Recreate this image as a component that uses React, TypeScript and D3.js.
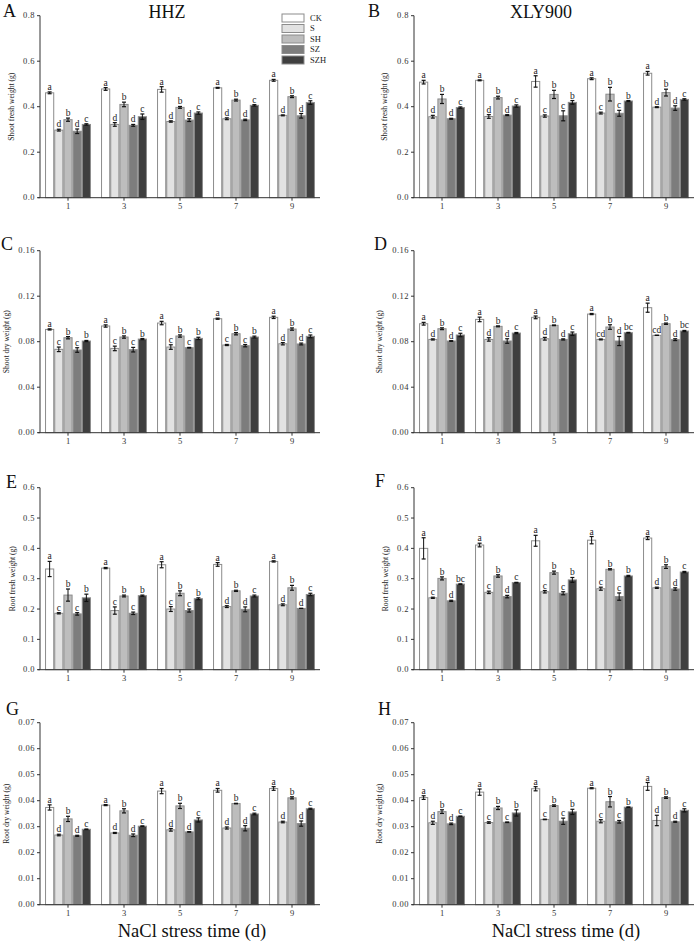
import React from 'react';
import * as d3 from 'd3';

const days = ['1', '3', '5', '7', '9'];
const treatments = ['CK', 'S', 'SH', 'SZ', 'SZH'];
const fills = ['#ffffff', '#e2e2e2', '#bdbdbd', '#7d7d7d', '#3f3f3f'];

// rows = days, columns = treatments
const aMean = [
  [0.461, 0.297, 0.343, 0.292, 0.322],
  [0.478, 0.322, 0.41, 0.318, 0.356],
  [0.476, 0.335, 0.397, 0.341, 0.372],
  [0.483, 0.347, 0.429, 0.342, 0.406],
  [0.516, 0.362, 0.444, 0.36, 0.418],
];
const aErr = [
  [0.004, 0.004, 0.007, 0.01, 0.003],
  [0.006, 0.008, 0.01, 0.004, 0.012],
  [0.012, 0.003, 0.004, 0.006, 0.005],
  [0.002, 0.004, 0.004, 0.003, 0.003],
  [0.004, 0.002, 0.004, 0.01, 0.008],
];
const aLetters = [
  ['a', 'd', 'b', 'd', 'c'],
  ['a', 'd', 'b', 'd', 'c'],
  ['a', 'd', 'b', 'd', 'c'],
  ['a', 'd', 'b', 'd', 'c'],
  ['a', 'd', 'b', 'd', 'c'],
];

const bMean = [
  [0.508, 0.356, 0.434, 0.347, 0.396],
  [0.516, 0.357, 0.44, 0.363, 0.403],
  [0.511, 0.359, 0.454, 0.36, 0.419],
  [0.523, 0.372, 0.455, 0.371, 0.425],
  [0.547, 0.398, 0.462, 0.394, 0.432],
];
const bErr = [
  [0.008, 0.006, 0.02, 0.002, 0.003],
  [0.002, 0.008, 0.006, 0.002, 0.005],
  [0.025, 0.005, 0.018, 0.022, 0.008],
  [0.004, 0.004, 0.03, 0.013, 0.002],
  [0.008, 0.002, 0.015, 0.01, 0.003],
];
const bLetters = [
  ['a', 'd', 'b', 'd', 'c'],
  ['a', 'd', 'b', 'd', 'c'],
  ['a', 'c', 'b', 'c', 'b'],
  ['a', 'c', 'b', 'c', 'b'],
  ['a', 'd', 'b', 'd', 'c'],
];

const cMean = [
  [0.0908, 0.0733, 0.0835, 0.0727, 0.0806],
  [0.0938, 0.0741, 0.0841, 0.073, 0.0823],
  [0.0964, 0.0753, 0.085, 0.0747, 0.0829],
  [0.1002, 0.0771, 0.087, 0.0765, 0.0841],
  [0.1014, 0.0782, 0.0911, 0.078, 0.0847],
];
const cErr = [
  [0.0005, 0.002, 0.001, 0.002, 0.0005],
  [0.001, 0.002, 0.001, 0.002, 0.0005],
  [0.0015, 0.002, 0.001, 0.0003, 0.001],
  [0.0005, 0.0005, 0.001, 0.001, 0.0008],
  [0.001, 0.001, 0.001, 0.0008, 0.0012],
];
const cLetters = [
  ['a', 'c', 'b', 'c', 'b'],
  ['a', 'c', 'b', 'c', 'b'],
  ['a', 'c', 'b', 'c', 'b'],
  ['a', 'c', 'b', 'c', 'b'],
  ['a', 'd', 'b', 'd', 'c'],
];

const dMean = [
  [0.0958, 0.082, 0.0914, 0.0806, 0.0859],
  [0.0996, 0.082, 0.0935, 0.0806, 0.0876],
  [0.1014, 0.0826, 0.0944, 0.082, 0.087],
  [0.1043, 0.082, 0.0929, 0.0806, 0.0879],
  [0.1099, 0.0856, 0.0958, 0.0818, 0.0894],
];
const dErr = [
  [0.0012, 0.0005, 0.0008, 0.0003, 0.0015],
  [0.002, 0.0015, 0.0004, 0.002, 0.0005],
  [0.0012, 0.0012, 0.0003, 0.0005, 0.0015],
  [0.0005, 0.0004, 0.002, 0.004, 0.0003],
  [0.004, 0, 0.0006, 0.0008, 0.0005],
];
const dLetters = [
  ['a', 'd', 'b', 'd', 'c'],
  ['a', 'd', 'b', 'd', 'c'],
  ['a', 'd', 'b', 'd', 'c'],
  ['a', 'cd', 'b', 'd', 'bc'],
  ['a', 'cd', 'b', 'd', 'bc'],
];

const eMean = [
  [0.332, 0.186, 0.246, 0.184, 0.237],
  [0.335, 0.195, 0.243, 0.186, 0.244],
  [0.346, 0.2, 0.252, 0.195, 0.234],
  [0.347, 0.208, 0.26, 0.199, 0.243],
  [0.357, 0.214, 0.27, 0.202, 0.248],
];
const eErr = [
  [0.025, 0.002, 0.02, 0.004, 0.012],
  [0.002, 0.012, 0.003, 0.004, 0.002],
  [0.01, 0.008, 0.008, 0.005, 0.003],
  [0.006, 0.003, 0.002, 0.008, 0.003],
  [0.002, 0.003, 0.008, 0, 0.004],
];
const eLetters = [
  ['a', 'c', 'b', 'c', 'b'],
  ['a', 'c', 'b', 'c', 'b'],
  ['a', 'c', 'b', 'c', 'b'],
  ['a', 'd', 'b', 'd', 'c'],
  ['a', 'd', 'b', 'd', 'c'],
];

const fMean = [
  [0.4, 0.237, 0.301, 0.227, 0.282],
  [0.411, 0.255, 0.309, 0.241, 0.287],
  [0.425, 0.257, 0.32, 0.252, 0.296],
  [0.427, 0.267, 0.331, 0.241, 0.309],
  [0.434, 0.27, 0.34, 0.266, 0.322],
];
const fErr = [
  [0.035, 0.002, 0.005, 0.002, 0.001],
  [0.006, 0.004, 0.004, 0.004, 0.001],
  [0.018, 0.004, 0.005, 0.005, 0.008],
  [0.012, 0.005, 0.002, 0.012, 0.002],
  [0.005, 0.002, 0.006, 0.004, 0.002],
];
const fLetters = [
  ['a', 'c', 'b', 'd', 'bc'],
  ['a', 'c', 'b', 'd', 'c'],
  ['a', 'c', 'b', 'c', 'b'],
  ['a', 'c', 'b', 'c', 'b'],
  ['a', 'd', 'b', 'd', 'c'],
];

const gMean = [
  [0.0374, 0.0268, 0.033, 0.0265, 0.029],
  [0.0383, 0.0276, 0.0361, 0.0267, 0.0302],
  [0.0437, 0.0288, 0.038, 0.028, 0.0326],
  [0.044, 0.0295, 0.0389, 0.0294, 0.0349],
  [0.0447, 0.0318, 0.0411, 0.0312, 0.0369],
];
const gErr = [
  [0.001, 0.0003, 0.001, 0.0002, 0.0001],
  [0.0002, 0.0002, 0.0008, 0.0005, 0.0001],
  [0.001, 0.0005, 0.001, 0.0001, 0.0008],
  [0.0007, 0.0004, 0.0001, 0.001, 0.0003],
  [0.0007, 0.0003, 0.0004, 0.001, 0.0002],
];
const gLetters = [
  ['a', 'd', 'b', 'd', 'c'],
  ['a', 'd', 'b', 'd', 'c'],
  ['a', 'd', 'b', 'd', 'c'],
  ['a', 'd', 'b', 'd', 'c'],
  ['a', 'd', 'b', 'd', 'c'],
];

const hMean = [
  [0.0412, 0.0315, 0.0358, 0.0311, 0.034],
  [0.0433, 0.0316, 0.0372, 0.0317, 0.0353],
  [0.0446, 0.0328, 0.0381, 0.0321, 0.0357],
  [0.0448, 0.0321, 0.0396, 0.0319, 0.0375],
  [0.0455, 0.0324, 0.0412, 0.0319, 0.0363],
];
const hErr = [
  [0.0007, 0.0006, 0.0007, 0.0003, 0.0001],
  [0.0012, 0.0003, 0.0006, 0.0001, 0.0012],
  [0.0008, 0.0001, 0.0003, 0.0012, 0.001],
  [0.0002, 0.0006, 0.002, 0.0005, 0.0001],
  [0.0015, 0.002, 0.0003, 0.0002, 0.0006],
];
const hLetters = [
  ['a', 'd', 'b', 'd', 'c'],
  ['a', 'c', 'b', 'c', 'b'],
  ['a', 'c', 'b', 'c', 'b'],
  ['a', 'c', 'b', 'c', 'b'],
  ['a', 'd', 'b', 'd', 'c'],
];

const freshTicks = [0, 0.2, 0.4, 0.6, 0.8];
const shootDryTicks = [0, 0.04, 0.08, 0.12, 0.16];
const rootFreshTicks = [0, 0.1, 0.2, 0.3, 0.4, 0.5, 0.6];
const rootDryTicks = [0, 0.01, 0.02, 0.03, 0.04, 0.05, 0.06, 0.07];

const FONT = '"Liberation Serif", "Times New Roman", serif';
const PLOT_W = 280;
const PLOT_H = 182;

type PanelDef = {
  tag: string;
  tagX: number;
  tagY: number;
  x0: number;
  top: number;
  mean: number[][];
  err: number[][];
  letters: string[][];
  ticks: number[];
  fmt: string;
  yTitle: string;
  yTitleOff: number;
  title?: string;
  legend?: boolean;
};

const panels: PanelDef[] = [
  { tag: 'A', tagX: 3, tagY: 17, x0: 40, top: 15.7, mean: aMean, err: aErr, letters: aLetters, ticks: freshTicks, fmt: '.1f', yTitle: 'Shoot fresh weight (g)', yTitleOff: 26, title: 'HHZ', legend: true },
  { tag: 'B', tagX: 368, tagY: 17, x0: 414, top: 15.7, mean: bMean, err: bErr, letters: bLetters, ticks: freshTicks, fmt: '.1f', yTitle: 'Shoot fresh weight (g)', yTitleOff: 27, title: 'XLY900' },
  { tag: 'C', tagX: 1, tagY: 250, x0: 40, top: 250.7, mean: cMean, err: cErr, letters: cLetters, ticks: shootDryTicks, fmt: '.2f', yTitle: 'Shoot dry weight (g)', yTitleOff: 31 },
  { tag: 'D', tagX: 374, tagY: 250, x0: 414, top: 250.7, mean: dMean, err: dErr, letters: dLetters, ticks: shootDryTicks, fmt: '.2f', yTitle: 'Shoot dry weight (g)', yTitleOff: 32 },
  { tag: 'E', tagX: 6, tagY: 488, x0: 40, top: 487.7, mean: eMean, err: eErr, letters: eLetters, ticks: rootFreshTicks, fmt: '.1f', yTitle: 'Root fresh weight (g)', yTitleOff: 25 },
  { tag: 'F', tagX: 375, tagY: 487, x0: 414, top: 487.7, mean: fMean, err: fErr, letters: fLetters, ticks: rootFreshTicks, fmt: '.1f', yTitle: 'Root fresh weight (g)', yTitleOff: 26 },
  { tag: 'G', tagX: 6, tagY: 715, x0: 40, top: 722.7, mean: gMean, err: gErr, letters: gLetters, ticks: rootDryTicks, fmt: '.2f', yTitle: 'Root dry weight (g)', yTitleOff: 31 },
  { tag: 'H', tagX: 378, tagY: 715, x0: 414, top: 722.7, mean: hMean, err: hErr, letters: hLetters, ticks: rootDryTicks, fmt: '.2f', yTitle: 'Root dry weight (g)', yTitleOff: 32 },
];

const Panel = ({ p }: { p: PanelDef }) => {
  const maxV = p.ticks[p.ticks.length - 1];
  const y = d3.scaleLinear().domain([0, maxV]).range([p.top + PLOT_H, p.top]);
  const x = d3
    .scaleBand<string>()
    .domain(days)
    .range([p.x0, p.x0 + PLOT_W])
    .paddingInner(0.18)
    .paddingOuter(0.09);
  const xi = d3.scaleBand<string>().domain(treatments).range([0, x.bandwidth()]);
  const fmt = d3.format(p.fmt);
  const base = y(0);
  const cap = 2;

  return (
    <g>
      <text x={p.tagX} y={p.tagY} fontSize={18} fontFamily={FONT} fill="#111">
        {p.tag}
      </text>
      {p.title && (
        <text x={p.x0 + 127} y={18} fontSize={18} fontFamily={FONT} textAnchor="middle" fill="#111">
          {p.title}
        </text>
      )}
      {/* bars */}
      {days.map((day, di) =>
        treatments.map((tr, ti) => {
          const v = p.mean[di][ti];
          const e = p.err[di][ti];
          const bx = (x(day) ?? 0) + (xi(tr) ?? 0);
          const bw = xi.bandwidth();
          const cx = bx + bw / 2;
          return (
            <g key={day + tr}>
              <rect
                x={bx + 0.5}
                y={y(v)}
                width={bw - 1}
                height={base - y(v)}
                fill={fills[ti]}
                stroke="#8c8c8c"
                strokeWidth={1}
              />
              <line x1={cx} x2={cx} y1={y(v - e)} y2={y(v + e)} stroke="#111" strokeWidth={1} />
              <line x1={cx - cap} x2={cx + cap} y1={y(v + e)} y2={y(v + e)} stroke="#111" strokeWidth={1.2} />
              <line x1={cx - cap} x2={cx + cap} y1={y(v - e)} y2={y(v - e)} stroke="#111" strokeWidth={1.2} />
              <text
                x={cx}
                y={y(v + e) - 2}
                fontSize={9.5}
                fontFamily={FONT}
                textAnchor="middle"
                fill="#222"
              >
                {p.letters[di][ti]}
              </text>
            </g>
          );
        })
      )}
      {/* y axis */}
      <line x1={p.x0} x2={p.x0} y1={p.top} y2={base} stroke="#333" strokeWidth={1} />
      {p.ticks.map((t) => (
        <g key={t}>
          <line x1={p.x0 - 3} x2={p.x0} y1={y(t)} y2={y(t)} stroke="#333" />
          <text
            x={p.x0 - 5}
            y={y(t)}
            dy="0.32em"
            fontSize={8.5}
            letterSpacing={0.5}
            fontFamily={FONT}
            textAnchor="end"
            fill="#333"
          >
            {fmt(t)}
          </text>
        </g>
      ))}
      {/* x axis */}
      <line x1={p.x0 - 2} x2={p.x0 + PLOT_W} y1={base} y2={base} stroke="#333" strokeWidth={1} />
      {days.map((day) => {
        const cx = (x(day) ?? 0) + x.bandwidth() / 2;
        return (
          <g key={day}>
            <line x1={cx} x2={cx} y1={base} y2={base + 3} stroke="#333" />
            <text x={cx} y={base + 11} fontSize={8.5} fontFamily={FONT} textAnchor="middle" fill="#333">
              {day}
            </text>
          </g>
        );
      })}
      {/* y title */}
      <text
        transform={`translate(${p.x0 - p.yTitleOff}, ${p.top + PLOT_H / 2}) rotate(-90)`}
        fontSize={7.6}
        fontFamily={FONT}
        textAnchor="middle"
        fill="#222"
      >
        {p.yTitle}
      </text>
      {p.legend && (
        <g>
          {treatments.map((tr, ti) => (
            <g key={tr}>
              <rect x={282} y={14 + ti * 10.5} width={22} height={8} fill={fills[ti]} stroke="#8c8c8c" />
              <text x={310} y={18 + ti * 10.5} dy="0.35em" fontSize={8.5} fontFamily={FONT} fill="#222">
                {tr}
              </text>
            </g>
          ))}
        </g>
      )}
    </g>
  );
};

export default function App() {
  return (
    <svg
      width={696}
      height={944}
      style={{ position: 'absolute', left: 0, top: 0, background: '#fff' }}
    >
      <rect width={696} height={944} fill="#fff" />
      {panels.map((p) => (
        <Panel key={p.tag} p={p} />
      ))}
      <text x={192} y={937} fontSize={18.5} fontFamily={FONT} textAnchor="middle" fill="#111">
        NaCl stress time (d)
      </text>
      <text x={566} y={937} fontSize={18.5} fontFamily={FONT} textAnchor="middle" fill="#111">
        NaCl stress time (d)
      </text>
    </svg>
  );
}
